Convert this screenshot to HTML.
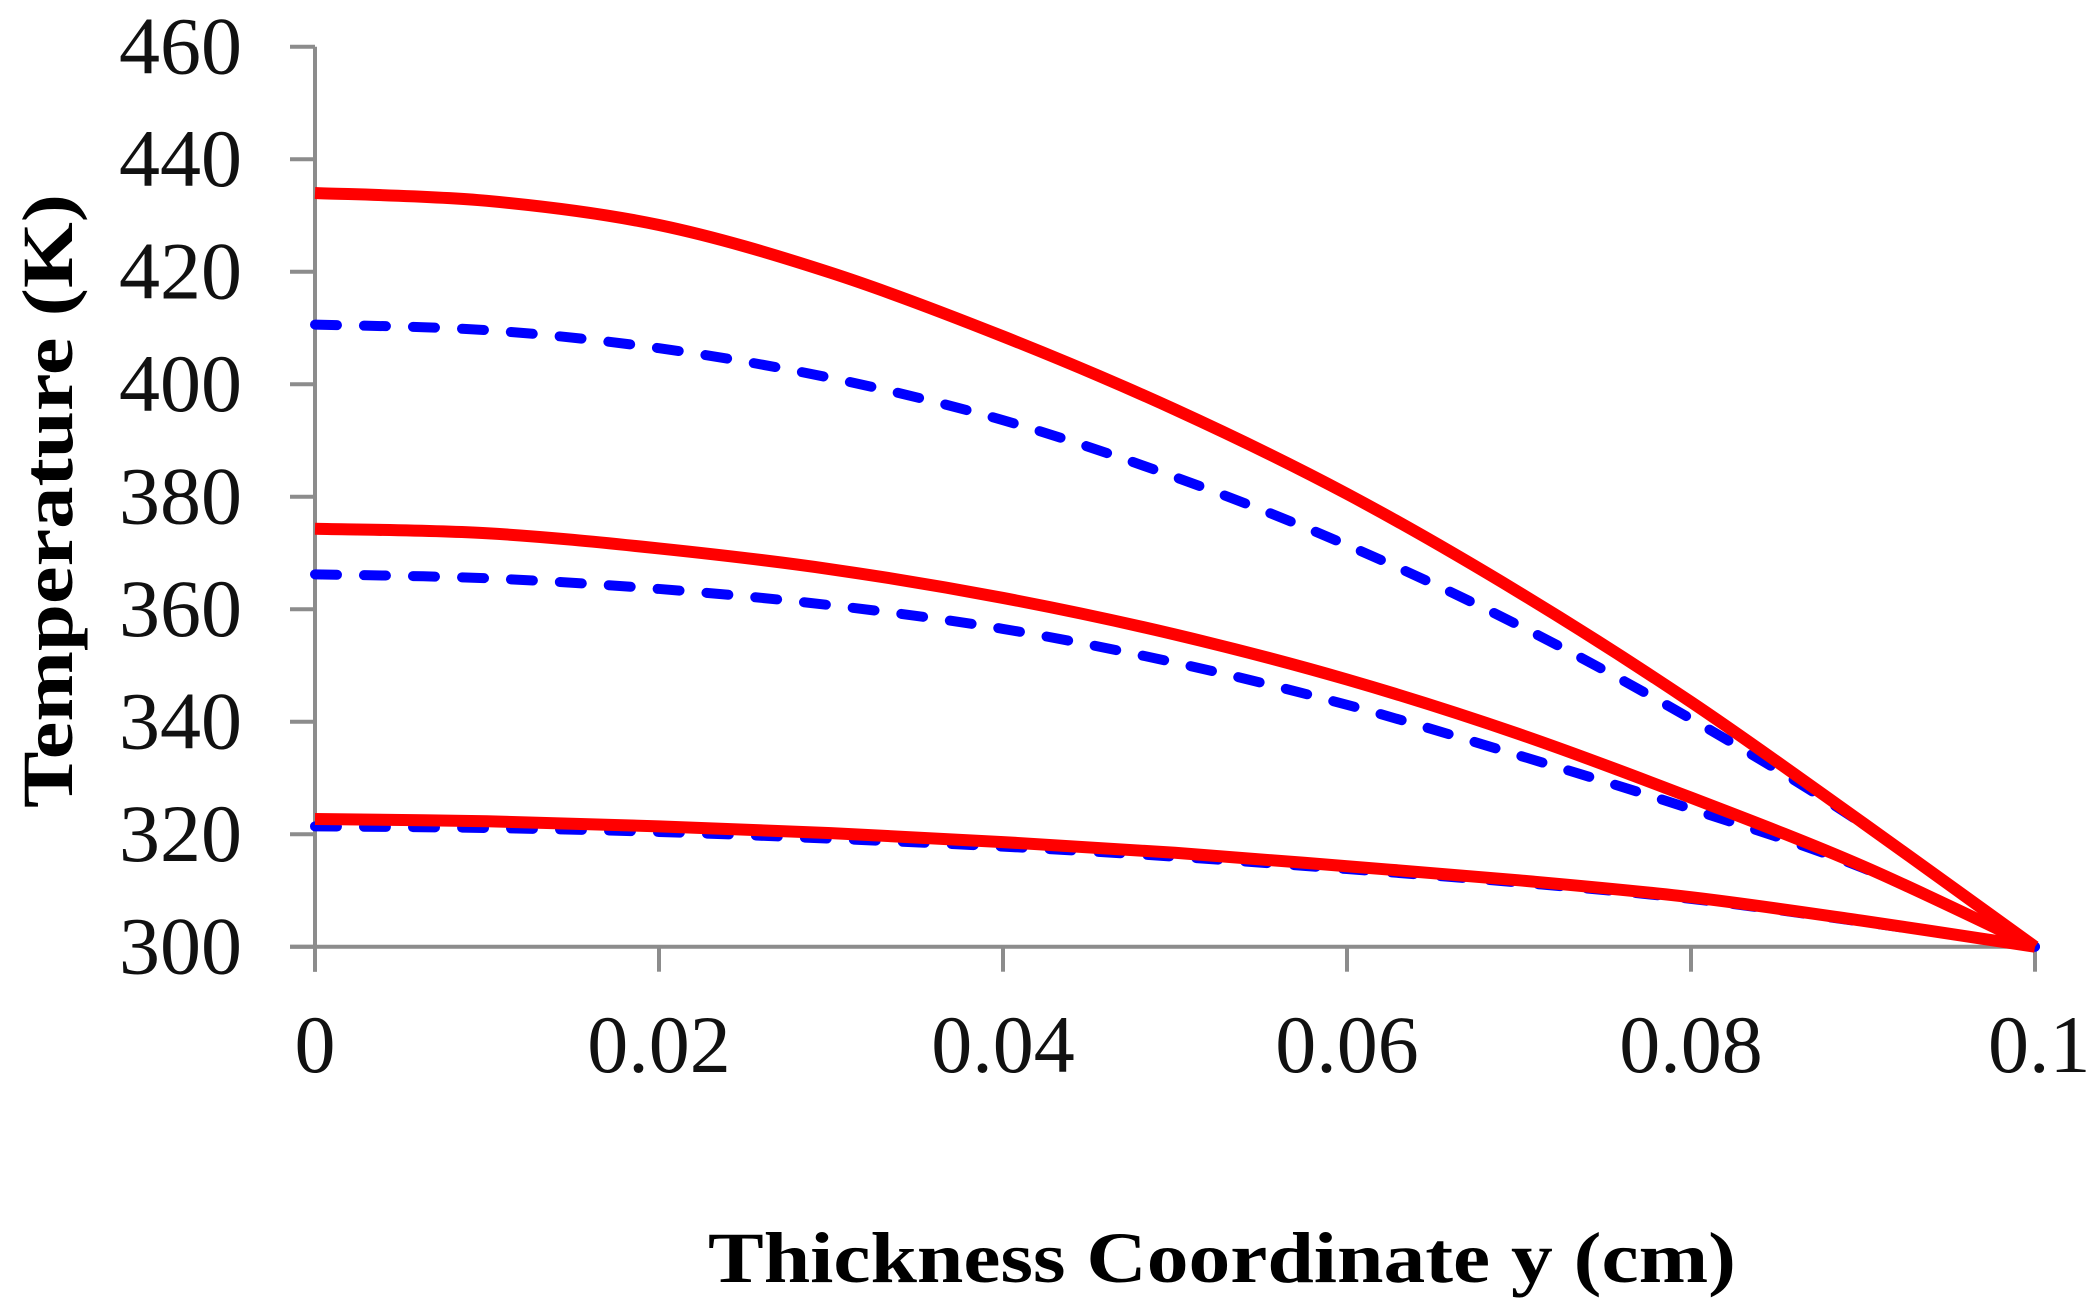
<!DOCTYPE html>
<html><head><meta charset="utf-8"><style>
html,body{margin:0;padding:0;background:#fff;}
svg{display:block;}
</style></head><body>
<svg id="chart" width="2093" height="1315" viewBox="0 0 2093 1315" xmlns="http://www.w3.org/2000/svg">
<g id="axes"></g>
<g id="series"></g>
<text x="1222" y="1282" text-anchor="middle" font-family="Liberation Serif, serif" font-weight="bold" font-size="72" textLength="1028" lengthAdjust="spacingAndGlyphs">Thickness Coordinate y (cm)</text>
<text transform="translate(72,501) rotate(-90)" text-anchor="middle" font-family="Liberation Serif, serif" font-weight="bold" font-size="72" textLength="614" lengthAdjust="spacingAndGlyphs">Temperature (K)</text>
</svg>
<script>
const xValues = [0,0.01,0.02,0.03,0.04,0.05,0.06,0.07,0.08,0.09,0.1];
const topSolid = [434.0,432.6,428.3,419.8,408.5,395.5,380.5,363.0,343.5,322.0,300];
const topDashed = [410.6,409.6,406.4,401.1,393.6,383.5,371.4,357.1,340.5,321.8,300];
const midSolid = [374.3,373.5,370.8,367.1,362.0,355.5,347.5,337.8,326.5,314.3,300];
const midDashed = [366.2,365.5,363.6,360.7,356.5,350.5,343.0,334.0,324.5,314.0,300];
const lowSolid = [322.7,322.3,321.4,320.2,318.6,316.7,314.3,311.8,308.8,304.6,300];
const lowDashed = [321.4,321.1,320.4,319.2,317.8,316.0,313.8,311.4,308.5,304.4,300];
const xTicks = [0,0.02,0.04,0.06,0.08,0.1];
const xTickLabels = ["0","0.02","0.04","0.06","0.08","0.1"];
const yTicks = [300,320,340,360,380,400,420,440,460];
const yTickLabels = ["300","320","340","360","380","400","420","440","460"];

const NS = "http://www.w3.org/2000/svg";
const X0 = 315, X1 = 2035, Y0 = 946.7, Y1 = 46.7;
const xs = v => X0 + (v - 0) / 0.1 * (X1 - X0);
const ys = v => Y0 - (v - 300) / 160 * (Y0 - Y1);
function mk(tag, attrs, parent) {
  const e = document.createElementNS(NS, tag);
  for (const k in attrs) e.setAttribute(k, attrs[k]);
  parent.appendChild(e);
  return e;
}
const axes = document.getElementById('axes');
const yAxis = mk('line', {x1: X0, y1: Y1, x2: X0, y2: Y0 + 25, stroke: '#8c8c8c', 'stroke-width': 4}, axes);


const xAxis = mk('line', {x1: X0 - 25, y1: Y0, x2: X1, y2: Y0, stroke: '#8c8c8c', 'stroke-width': 4}, axes);


yTicks.forEach((t, i) => {
  const y = ys(t);
  const tk = mk('line', {x1: X0 - 25, y1: y, x2: X0, y2: y, stroke: '#8c8c8c', 'stroke-width': 4}, axes);
  
  
  const lb = mk('text', {x: 242, y: y + 27, 'text-anchor': 'end', 'font-family': 'Liberation Serif, serif', 'font-size': 82, fill: '#111'}, axes);
  lb.textContent = yTickLabels[i];
  
  
});
xTicks.forEach((t, i) => {
  const x = xs(t);
  const tk = mk('line', {x1: x, y1: Y0, x2: x, y2: Y0 + 25, stroke: '#8c8c8c', 'stroke-width': 4}, axes);
  
  
  const lb = mk('text', {x: x, y: 1072, 'text-anchor': i === xTicks.length - 1 ? 'start' : 'middle', 'font-family': 'Liberation Serif, serif', 'font-size': 82, fill: '#111'}, axes);
  if (i === xTicks.length - 1) lb.setAttribute('x', x - 47);
  lb.textContent = xTickLabels[i];
  
  
});
function pathFor(vals) {
  const p = xValues.map((x, i) => [xs(x), ys(vals[i])]);
  let d = `M${p[0][0]},${p[0][1]}`;
  for (let i = 0; i < p.length - 1; i++) {
    const p0 = p[Math.max(0, i - 1)], p1 = p[i], p2 = p[i + 1], p3 = p[Math.min(p.length - 1, i + 2)];
    const c1x = p1[0] + (p2[0] - p0[0]) / 6, c1y = p1[1] + (p2[1] - p0[1]) / 6;
    const c2x = p2[0] - (p3[0] - p1[0]) / 6, c2y = p2[1] - (p3[1] - p1[1]) / 6;
    d += ` C${c1x},${c1y} ${c2x},${c2y} ${p2[0]},${p2[1]}`;
  }
  return d;
}
const series = document.getElementById('series');
[[topDashed, 'series-top-dashed'], [midDashed, 'series-mid-dashed'], [lowDashed, 'series-low-dashed']].forEach(([v, n]) => {
  const el = mk('path', {d: pathFor(v), fill: 'none', stroke: '#0000ff', 'stroke-width': 10, 'stroke-linecap': 'round', 'stroke-dasharray': '22 27'}, series);
  
  
});
[[topSolid, 'series-top-solid'], [midSolid, 'series-mid-solid'], [lowSolid, 'series-low-solid']].forEach(([v, n]) => {
  const el = mk('path', {d: pathFor(v), fill: 'none', stroke: '#ff0000', 'stroke-width': 12}, series);
  
  
});
</script>
</body></html>
